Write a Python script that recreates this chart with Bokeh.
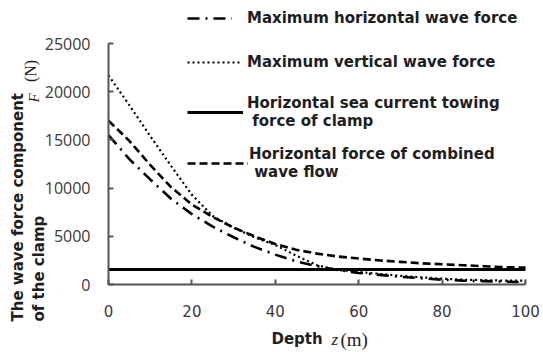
from math import pi
from bokeh.plotting import figure
from bokeh.models import Range1d, FixedTicker, Label, Legend, LegendItem, LinearAxis
from bokeh.embed import file_html
from bokeh.resources import INLINE

# ---- data ----
depth = [0, 5, 10, 15, 20, 25, 30, 35, 40, 45, 50, 55, 60, 65, 70, 75, 80, 85, 90, 95, 100]
max_horizontal = [15500, 13000, 10900, 8900, 7300, 6000, 4900, 3900, 3100, 2400, 1900,
                  1500, 1200, 1000, 800, 650, 500, 400, 350, 300, 250]
max_vertical = [21700, 18600, 15400, 12300, 9300, 7100, 5900, 4900, 4100, 3000, 2000,
                1500, 1300, 1100, 900, 750, 600, 500, 450, 400, 400]
combined = [17000, 14900, 12400, 10100, 8300, 7000, 5900, 5000, 4200, 3600, 3200,
            2900, 2700, 2500, 2350, 2200, 2100, 2000, 1900, 1800, 1750]
current_depth = [0, 100]
current_force = [1550, 1550]
x_ticks = [0, 20, 40, 60, 80, 100]
y_ticks = [0, 5000, 10000, 15000, 20000, 25000]
x_bounds = (0, 100)
y_bounds = (0, 25000)

W, H = 543, 352
# pixel box of the data area inside the canvas
PL, PR, PT, PB = 108, 525, 43, 284


def dx(px):
    return x_bounds[0] + (px - PL) / (PR - PL) * (x_bounds[1] - x_bounds[0])


def dy(py):
    return y_bounds[0] + (PB - py) / (PB - PT) * (y_bounds[1] - y_bounds[0])


p = figure(width=W, height=H, output_backend="svg", toolbar_location=None,
           x_range=Range1d(dx(0), dx(W)), y_range=Range1d(dy(H), dy(0)),
           x_axis_location=None, y_axis_location=None,
           min_border_left=0, min_border_right=0, min_border_top=0, min_border_bottom=0)
p.outline_line_color = None
p.xgrid.visible = False
p.ygrid.visible = False
p.background_fill_color = "white"
p.border_fill_color = "white"

axis_col = "#555555"
xax = LinearAxis(fixed_location=y_bounds[0], bounds=x_bounds, ticker=FixedTicker(ticks=x_ticks))
yax = LinearAxis(fixed_location=x_bounds[0], bounds=y_bounds, ticker=FixedTicker(ticks=y_ticks))
for ax in (xax, yax):
    ax.axis_line_color = axis_col
    ax.axis_line_width = 2
    ax.major_tick_line_color = axis_col
    ax.major_tick_line_width = 2
    ax.major_tick_in = 5
    ax.major_tick_out = 0
    ax.minor_tick_line_color = None
    ax.major_label_text_color = "#3a3a3a"

xax.major_label_text_font = "DejaVu Sans"
xax.major_label_text_font_size = "15px"
xax.major_label_standoff = 20
yax.major_label_text_font = "Open Sans"
yax.major_label_text_font_size = "16px"
yax.major_label_standoff = 18
p.add_layout(xax, "below")
p.add_layout(yax, "left")

r_h = p.line(depth, max_horizontal, line_color="black", line_width=2.6, line_dash="12 6 2 6")
r_v = p.line(depth, max_vertical, line_color="black", line_width=2.2, line_dash="2 3")
r_c = p.line(current_depth, current_force, line_color="black", line_width=3)
r_w = p.line(depth, combined, line_color="black", line_width=2.6, line_dash="8 4")


def add_legend(renderer, label, glyph_x, glyph_w, top_y, height, standoff):
    lg = Legend(items=[LegendItem(label=label, renderers=[renderer])],
                location=(glyph_x, H - (top_y + height)),
                orientation="vertical", glyph_width=glyph_w, glyph_height=height,
                label_height=height, label_standoff=standoff, padding=0, margin=0, spacing=0,
                border_line_alpha=0, background_fill_alpha=0,
                label_text_font="DejaVu Sans", label_text_font_style="bold",
                label_text_font_size="15px", label_text_color="#1e1e1e",
                label_text_line_height=1.65)
    p.add_layout(lg)


add_legend(r_h, "Maximum horizontal wave force", 187, 45, 8, 20, 15)
add_legend(r_v, "Maximum vertical wave force", 187, 55, 52, 20, 5)
add_legend(r_c, "Horizontal sea current towing\n force of clamp", 187, 56, 88, 48, 4)
add_legend(r_w, "Horizontal force of combined\n wave flow", 187, 61, 139, 48, 1)

bold = dict(text_font="DejaVu Sans", text_font_style="bold", text_font_size="15px",
            text_color="#1e1e1e")

# y axis title (rotated)
p.add_layout(Label(x=dx(17.5), y=dy(321), text="The wave force component", angle=pi / 2,
                   text_align="left", text_baseline="middle", **bold))
p.add_layout(Label(x=dx(33.5), y=dy(97.5), text="F", angle=pi / 2, text_align="center",
                   text_baseline="middle", text_font="Liberation Serif", text_font_style="italic",
                   text_font_size="15px", text_color="#1e1e1e"))
p.add_layout(Label(x=dx(29.5), y=dy(70.5), text="(N)", angle=pi / 2, text_align="center",
                   text_baseline="middle", text_font="Liberation Serif", text_font_size="16px",
                   text_color="#1e1e1e"))
p.add_layout(Label(x=dx(38.5), y=dy(321), text="of the clamp", angle=pi / 2,
                   text_align="left", text_baseline="middle", **bold))

# x axis title
p.add_layout(Label(x=dx(271), y=dy(338), text="Depth", text_align="left",
                   text_baseline="middle", **bold))
p.add_layout(Label(x=dx(331), y=dy(339), text="z", text_align="left", text_baseline="middle",
                   text_font="Liberation Serif", text_font_style="italic", text_font_size="17px",
                   text_color="#1e1e1e"))
p.add_layout(Label(x=dx(340), y=dy(339), text="(m)", text_align="left", text_baseline="middle",
                   text_font="Liberation Serif", text_font_size="19px", text_color="#1e1e1e"))

open("out.html", "w").write(file_html(p, INLINE))
